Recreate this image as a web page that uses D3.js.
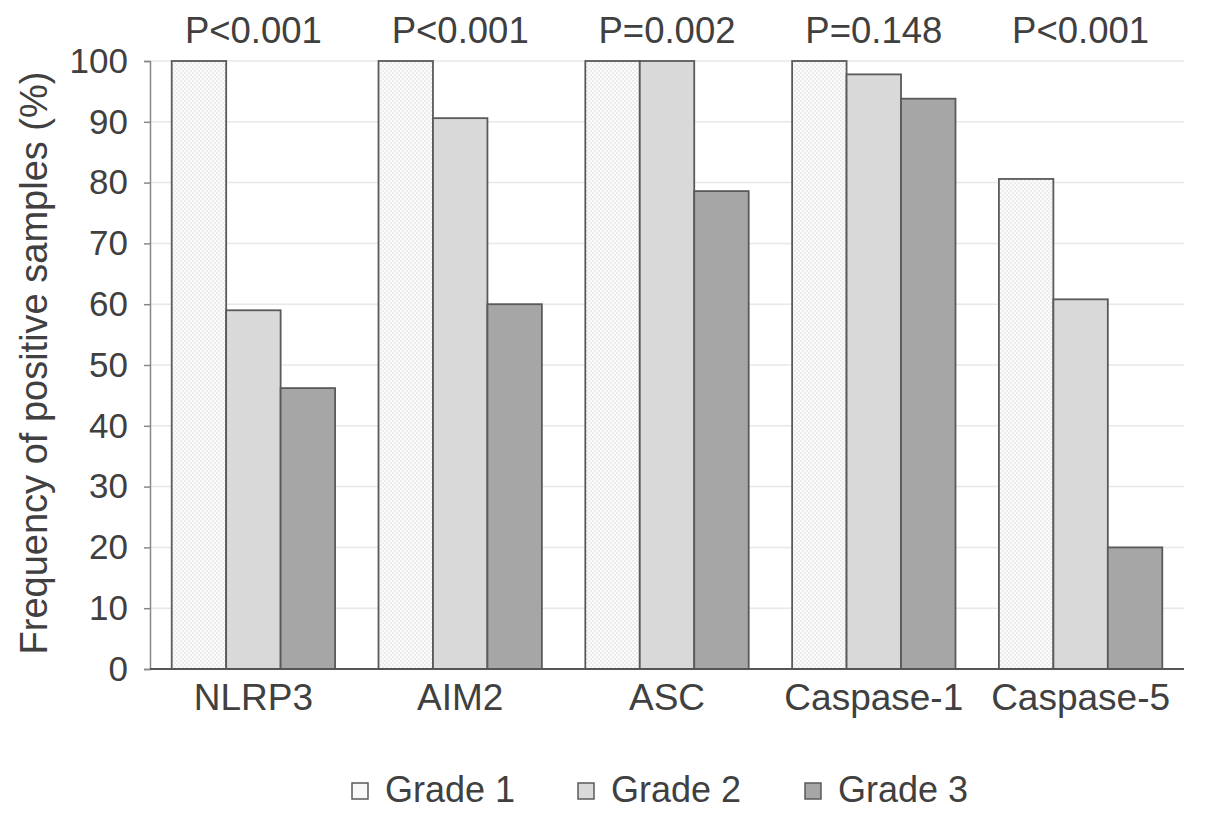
<!DOCTYPE html>
<html>
<head>
<meta charset="utf-8">
<script src="https://cdn.jsdelivr.net/npm/d3@7"></script>
<style>
  body { margin: 0; background: #fff; }
  text { font-family: "Liberation Sans", Arial, sans-serif; fill: #404040; }
</style>
</head>
<body>
<div id="chart"></div>
<script>
// Data
const genes = ["NLRP3", "AIM2", "ASC", "Caspase-1", "Caspase-5"];
const grades = ["Grade 1", "Grade 2", "Grade 3"];
const grade1 = [100, 100, 100, 100, 80.6];
const grade2 = [59.0, 90.6, 100, 97.8, 60.8];
const grade3 = [46.2, 60.0, 78.6, 93.8, 20.0];
const pValues = ["P<0.001", "P<0.001", "P=0.002", "P=0.148", "P<0.001"];
const yTicks = [0, 10, 20, 30, 40, 50, 60, 70, 80, 90, 100];

const series = [grade1, grade2, grade3];
const fills = ["url(#dots)", "#d9d9d9", "#a6a6a6"];

const W = 1205, H = 819;
const margin = { top: 61, right: 21, bottom: 150, left: 150 };

const svg = d3.select("#chart").append("svg")
  .attr("width", W)
  .attr("height", H);

// fine dotted fill for grade 1
const pat = svg.append("defs").append("pattern")
  .attr("id", "dots")
  .attr("width", 4)
  .attr("height", 4)
  .attr("patternUnits", "userSpaceOnUse");
pat.append("rect").attr("width", 4).attr("height", 4).attr("fill", "#fcfcfc");
pat.append("rect").attr("width", 2).attr("height", 2).attr("fill", "#ececec");
pat.append("rect").attr("x", 2).attr("y", 2).attr("width", 2).attr("height", 2).attr("fill", "#ececec");

const x0 = d3.scaleBand()
  .domain(genes)
  .range([margin.left, W - margin.right])
  .paddingInner(0.21)
  .paddingOuter(0.105);

const x1 = d3.scaleBand()
  .domain(grades)
  .range([0, x0.bandwidth()]);

const y = d3.scaleLinear()
  .domain([0, 100])
  .range([H - margin.bottom, margin.top]);

// gridlines
svg.selectAll(".grid")
  .data(yTicks.filter(d => d > 0))
  .enter()
  .append("line")
  .attr("x1", margin.left)
  .attr("x2", W - margin.right)
  .attr("y1", d => y(d))
  .attr("y2", d => y(d))
  .attr("stroke", "#e8e8e8")
  .attr("stroke-width", 1.5);

// bars
genes.forEach((g, i) => {
  series.forEach((s, j) => {
    svg.append("rect")
      .attr("x", x0(g) + x1(grades[j]))
      .attr("y", y(s[i]))
      .attr("width", x1.bandwidth())
      .attr("height", y(0) - y(s[i]))
      .attr("fill", fills[j])
      .attr("stroke", "#5a5a5a")
      .attr("stroke-width", 1.8);
  });
});

// y axis
const yAxis = svg.append("g")
  .attr("transform", `translate(${margin.left},0)`)
  .call(d3.axisLeft(y).tickValues(yTicks).tickSize(6).tickPadding(16));
yAxis.select(".domain").attr("stroke", "#888").attr("stroke-width", 1.5);
yAxis.selectAll(".tick line").attr("stroke", "#888").attr("stroke-width", 1.5);
yAxis.selectAll(".tick text")
  .attr("font-size", "35px")
  .style("font-family", "'Liberation Sans', Arial, sans-serif")
  .attr("fill", "#404040");

// baseline
svg.append("line")
  .attr("x1", margin.left)
  .attr("x2", W - margin.right)
  .attr("y1", y(0))
  .attr("y2", y(0))
  .attr("stroke", "#555")
  .attr("stroke-width", 2);

// category labels
svg.selectAll(".cat")
  .data(genes)
  .enter()
  .append("text")
  .attr("x", d => x0(d) + x0.bandwidth() / 2)
  .attr("y", 710)
  .attr("text-anchor", "middle")
  .attr("font-size", "37px")
  .text(d => d);

// p values
svg.selectAll(".pval")
  .data(pValues)
  .enter()
  .append("text")
  .attr("x", (d, i) => x0(genes[i]) + x0.bandwidth() / 2)
  .attr("y", 43)
  .attr("text-anchor", "middle")
  .attr("font-size", "36.5px")
  .text(d => d);

// y axis title
svg.append("text")
  .attr("transform", `translate(47,${(y(0) + y(100)) / 2 - 2}) rotate(-90)`)
  .attr("text-anchor", "middle")
  .attr("font-size", "38px")
  .text("Frequency of positive samples (%)");

// legend
const legendX = [352, 578, 805];
const legend = svg.selectAll(".legend")
  .data(grades)
  .enter()
  .append("g")
  .attr("transform", (d, i) => `translate(${legendX[i]},783)`);

legend.append("rect")
  .attr("width", 16)
  .attr("height", 16)
  .attr("fill", (d, i) => i === 0 ? "#f8f8f8" : fills[i])
  .attr("stroke", "#5a5a5a")
  .attr("stroke-width", 1.5);

legend.append("text")
  .attr("x", 33)
  .attr("y", 19)
  .attr("font-size", "36px")
  .text(d => d);
</script>
</body>
</html>
